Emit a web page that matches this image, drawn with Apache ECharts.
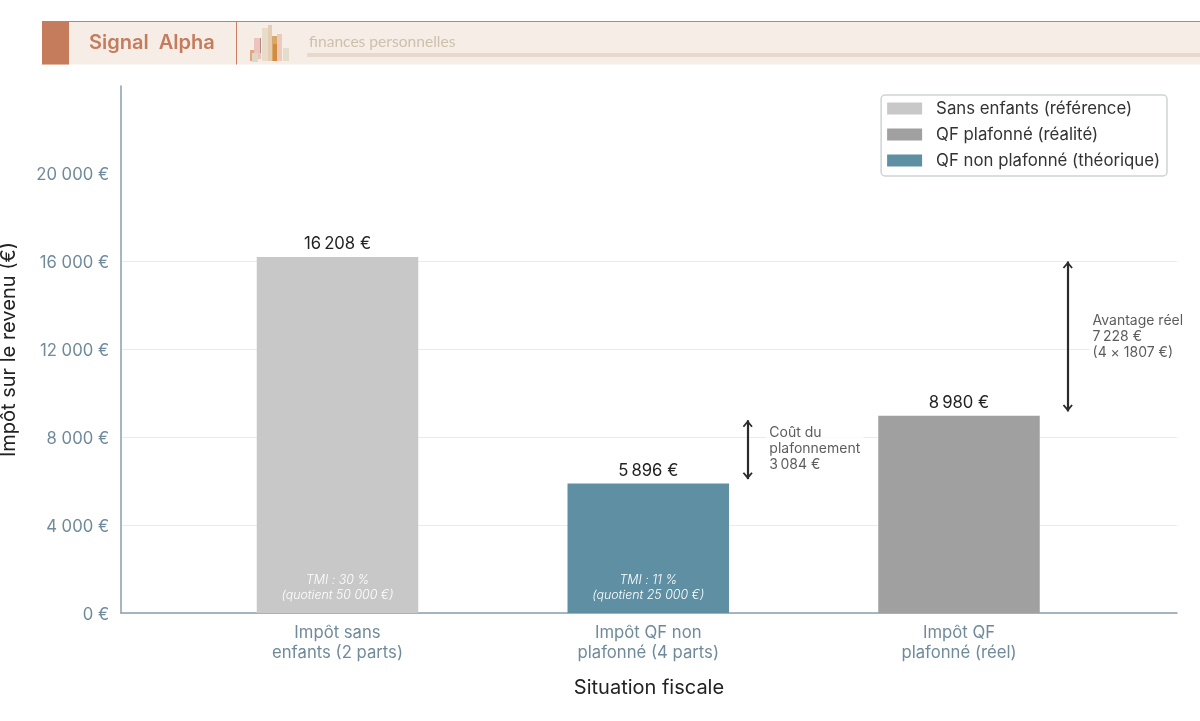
<!DOCTYPE html>
<html><head><meta charset="utf-8">
<script src="https://cdn.jsdelivr.net/npm/echarts@6/dist/echarts.min.js"></script>
<style>html,body{margin:0;background:#fff}#c{width:1200px;height:721px}</style></head>
<body><div id="c"></div>
<script>
const categories = ['Impôt sans\nenfants (2 parts)', 'Impôt QF non\nplafonné (4 parts)', 'Impôt QF\nplafonné (réel)'];
const seriesNames = ['Sans enfants (référence)', 'QF plafonné (réalité)', 'QF non plafonné (théorique)'];
const sansEnfants = [[0, 16208]];
const qfPlafonne = [[2, 8980]];
const qfNonPlafonne = [[1, 5896]];
const valueLabels = ['16\u202f208 €', '8\u202f980 €', '5\u202f896 €'];
const barNotes = ['TMI : 30 %\n(quotient 50 000 €)', '', 'TMI : 11 %\n(quotient 25 000 €)'];
const arrowCout = [[1.32, 6096], [1.32, 8780]];
const arrowAvantage = [[2.35, 9180], [2.35, 16008]];
const noteCout = [1.38, 7480, 'Coût du\nplafonnement\n3\u202f084 €'];
const noteAvantage = [2.42, 12590, 'Avantage réel\n7\u202f228 €\n(4 × 1807 €)'];
const yTicks = [0, 4000, 8000, 12000, 16000, 20000];
const colors = ['#c8c8c8', '#a0a0a0', '#5f8fa3'];
const font = 'Inter';
const chevron = 'path://M5 0 L5 0 Z M5 7 L10 13 L8.6 14 L5 9.8 L1.4 14 L0 13 Z';
const fmt = v => v === 0 ? '0 €' : String(v).replace(/\B(?=(\d{3})+$)/g, ' ') + ' €';

function barSeries(i, data, noteIdx) {
  return {
    type: 'bar', name: seriesNames[i], data, stack: 'all', barWidth: 161.5,
    itemStyle: {color: colors[i]}, emphasis: {disabled: true}, z: 3,
    label: {show: true, position: 'top', distance: 4.5, formatter: valueLabels[i], color: '#222', fontFamily: font, fontSize: 16.7},
    markPoint: barNotes[noteIdx] ? {
      symbol: 'rect', symbolSize: 0, silent: true,
      data: [{coord: [data[0][0], 1140], label: {show: true, position: 'inside', formatter: barNotes[noteIdx],
        color: '#fff', fontFamily: font, fontStyle: 'italic', fontWeight: 300, fontSize: 12.4, lineHeight: 15}}]
    } : undefined
  };
}
function arrow(name, seg) {
  return {
    type: 'line', name, data: [], silent: true, z: 6,
    markLine: {silent: true, symbol: [chevron, chevron], symbolSize: [10, 14], precision: 4, animation: false,
      lineStyle: {color: '#2b2b2b', width: 2.2, type: 'solid'}, itemStyle: {color: '#2b2b2b'}, label: {show: false},
      data: [[{coord: seg[0]}, {coord: seg[1]}]]}
  };
}
function note(name, n) {
  return {
    type: 'scatter', name, data: [[n[0], n[1]]], symbolSize: 0, silent: true, z: 5,
    label: {show: true, position: 'right', distance: 0, formatter: n[2], align: 'left', verticalAlign: 'middle',
      color: '#333', fontFamily: font, fontSize: 14, lineHeight: 16, backgroundColor: '#fff', padding: [2, 3]}
  };
}

const chart = echarts.init(document.getElementById('c'), null, {renderer: 'canvas'});
chart.setOption({
  animation: false, backgroundColor: '#fff',
  grid: {left: 121, right: 23, top: 86, bottom: 108, containLabel: false, outerBoundsMode: 'none'},
  legend: {
    right: 33, top: 95, orient: 'vertical', itemWidth: 35, itemHeight: 12, itemGap: 9,
    data: seriesNames, selectedMode: false, icon: 'rect',
    backgroundColor: '#fff', borderColor: '#cfd3d6', borderWidth: 1.5, borderRadius: 4, padding: [5, 7, 7, 6], z: 10,
    textStyle: {fontFamily: font, fontSize: 16.8, color: '#333', padding: [0, 0, 0, 9]}
  },
  xAxis: {
    type: 'value', min: -0.6967, max: 2.7015, name: 'Situation fiscale', nameLocation: 'middle', nameGap: 65,
    nameTextStyle: {fontFamily: font, fontSize: 20, color: '#222'},
    splitLine: {show: false},
    axisLine: {show: true, onZero: false, lineStyle: {color: '#8a9ead', width: 1.5}},
    axisTick: {show: false, customValues: [0, 1, 2]},
    axisLabel: {customValues: [0, 1, 2], formatter: v => categories[v] || '', color: '#6f8a9b', fontFamily: font, fontSize: 16.7, lineHeight: 20, margin: 9.5, hideOverlap: false}
  },
  yAxis: {
    type: 'value', min: 0, max: 24000, name: 'Impôt sur le revenu (€)', nameLocation: 'middle', nameGap: 102,
    nameTextStyle: {fontFamily: font, fontSize: 20, color: '#222'},
    axisLine: {show: true, onZero: false, lineStyle: {color: '#8a9ead', width: 1.5}},
    axisTick: {show: false, customValues: yTicks},
    axisLabel: {customValues: yTicks, formatter: fmt, color: '#6f8a9b', fontFamily: font, fontSize: 16.7, margin: 12, verticalAlign: 'top', lineHeight: 3},
    splitLine: {show: true, showMaxLine: false, customValues: yTicks, lineStyle: {color: '#ececec', width: 1}}
  },
  series: [
    barSeries(0, sansEnfants, 0), barSeries(1, qfPlafonne, 1), barSeries(2, qfNonPlafonne, 2),
    arrow('arrowCout', arrowCout), arrow('arrowAvantage', arrowAvantage),
    note('noteCout', noteCout), note('noteAvantage', noteAvantage)
  ],
  graphic: [
    {type: 'rect', shape: {x: 42, y: 21.5, width: 1158, height: 43}, style: {fill: '#f6ede7'}, silent: true},
    {type: 'rect', shape: {x: 42, y: 21, width: 1158, height: 1}, style: {fill: '#c97f60'}, silent: true},
    {type: 'rect', shape: {x: 42, y: 21.5, width: 27, height: 43}, style: {fill: '#c47c5c'}, silent: true},
    {type: 'rect', shape: {x: 236, y: 21.5, width: 1, height: 43}, style: {fill: '#c97f60'}, silent: true},
    {type: 'text', x: 89, y: 43, style: {text: 'Signal  Alpha', fill: '#c47c5c', font: '600 20px Inter', textVerticalAlign: 'middle'}, silent: true},
    {type: 'text', x: 309, y: 42, style: {text: 'finances personnelles', fill: '#cfc0ad', font: '400 15.6px Lato', textVerticalAlign: 'middle'}, silent: true},
    {type: 'rect', shape: {x: 307, y: 53, width: 893, height: 4}, style: {fill: '#e8d9cb'}, silent: true},
    {type: 'rect', shape: {x: 250, y: 50, width: 8, height: 11}, style: {fill: '#e2a57e'}, silent: true},
    {type: 'rect', shape: {x: 254, y: 38, width: 7, height: 21}, style: {fill: '#ecc4bb'}, silent: true},
    {type: 'rect', shape: {x: 260, y: 38, width: 1, height: 15}, style: {fill: '#b08a88'}, silent: true},
    {type: 'rect', shape: {x: 252, y: 53, width: 6, height: 9}, style: {fill: '#dcd9c9'}, silent: true},
    {type: 'rect', shape: {x: 262, y: 28, width: 6, height: 33}, style: {fill: '#e8dbc8'}, silent: true},
    {type: 'rect', shape: {x: 268, y: 25, width: 4, height: 36}, style: {fill: '#e3cdb4'}, silent: true},
    {type: 'rect', shape: {x: 272, y: 36, width: 5, height: 25}, style: {fill: '#d8a868'}, silent: true},
    {type: 'rect', shape: {x: 273, y: 44, width: 5, height: 17}, style: {fill: '#d68a3c'}, silent: true},
    {type: 'rect', shape: {x: 277, y: 34, width: 5, height: 27}, style: {fill: '#eccbbd'}, silent: true},
    {type: 'rect', shape: {x: 283, y: 48, width: 6, height: 13}, style: {fill: '#e3dccb'}, silent: true}
  ]
});
</script></body></html>
